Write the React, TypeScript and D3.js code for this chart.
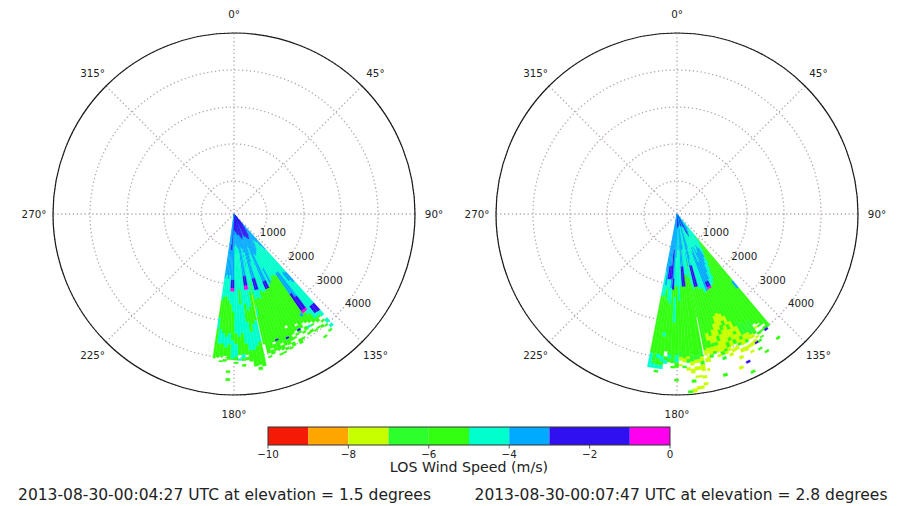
import React from 'react';
import { scaleLinear, scaleThreshold, arc, range } from 'd3';

// run values in m/s: one value from each colour bin of the colorbar
const M = -0.5, D = -2, S = -3.5, C = -4.5, G = -5.5, L = -6.5, Y = -7.5, X = null;

const colorBounds = [-9, -8, -7, -6, -5, -4, -3, -1];
const colorList = ['#f51a05', '#ffa500', '#c8ff00', '#2dff2d', '#33ff11', '#00ffcc', '#00aaff', '#3010f0', '#ff00ee'];
const colorTicks = [-10, -8, -6, -4, -2, 0];
const colorEdges = [-10, -9, -8, -7, -6, -5, -4, -3, -1, 0];

const angleTicks = [0, 45, 90, 135, 180, 225, 270, 315];
const rangeRings = [1000, 2000, 3000, 4000, 5000];
const rangeLabels = [1000, 2000, 3000, 4000];

const leftTitle = '2013-08-30-00:04:27 UTC at elevation = 1.5 degrees';
const rightTitle = '2013-08-30-00:07:47 UTC at elevation = 2.8 degrees';

// beam edges in degrees, then for each beam [end of run in metres, value, ...]
const leftAzimuths = [138, 139.5, 141, 142.5, 144, 145.5, 147, 148.5, 150, 151.5, 153, 154.5, 156, 157.5, 159, 160.5, 162, 163.5, 165, 166.5, 167.4, 167.9, 169.4, 170.9, 172.4, 173.9, 175.4, 176.9, 178.4, 179.9, 181.4, 182.9, 184.4, 185.9, 187.4, 188.4];
const leftRuns = [
    [1300, S, 2150, C, 2500, S, 3300, C, 3560, D, 3720, C, 3840, X, 3960, C, 4030, X, 4115, C],
    [300, D, 1150, S, 2100, C, 2400, S, 3300, C, 3540, D, 3650, C, 3700, G, 3800, X, 3860, G, 3960, X, 4010, G, 4130, X, 4190, G],
    [400, D, 1000, S, 3650, C, 3780, G, 3900, X, 3970, G],
    [500, D, 950, S, 2000, C, 2850, S, 3260, D, 3330, M, 3450, C, 3720, G, 3880, X, 3930, G, 4190, X, 4245, G],
    [600, D, 900, S, 2000, C, 2700, S, 3260, D, 3340, M, 3650, G, 3720, X, 3770, G, 3900, X, 3950, G],
    [700, D, 1050, S, 2050, C, 3300, G, 3400, S, 3600, G, 3700, X, 3760, C, 3840, X, 3910, G],
    [750, D, 1150, S, 2000, C, 3550, G, 3680, X, 3780, G, 3860, X, 3920, G],
    [800, D, 1200, S, 2000, C, 3660, G, 3760, X, 3820, G],
    [800, D, 1250, S, 2100, C, 3480, G, 3540, X, 3640, G, 3700, D, 3760, G, 3900, X, 3950, G],
    [750, D, 1300, S, 1700, C, 2150, S, 3650, G, 3720, X, 3780, G, 3900, X, 4035, G],
    [700, D, 1250, S, 1800, C, 2200, C, 3700, G, 3780, X, 3840, G],
    [700, D, 1500, S, 2030, S, 2260, D, 3400, G, 3470, X, 3850, G, 3900, X, 4010, G],
    [650, D, 1550, S, 2030, S, 2260, D, 3700, G, 3760, D, 3920, G, 4000, X, 4050, G],
    [600, S, 1000, S, 2300, C, 3900, G, 3960, X, 4030, G],
    [650, D, 1200, S, 2300, C, 3800, G, 3860, X, 3990, G, 4050, X, 4090, G],
    [700, D, 1400, S, 2250, C, 3650, G, 3700, D, 3960, G, 4060, X, 4110, G],
    [750, D, 1600, S, 1860, S, 2190, D, 2450, C, 3700, G, 3760, X, 3950, G, 4025, X],
    [700, D, 1600, S, 1860, S, 2190, D, 2400, C, 3850, G, 3900, X, 4020, G],
    [650, D, 1100, S, 2450, C, 3960, G, 4040, X, 4090, G],
    [600, D, 1000, S, 1900, C, 2600, G, 2900, C, 3690, G],
    [1500, S, 2300, C, 2800, Y, 4400, X],
    [600, D, 950, S, 2200, C, 3000, G, 3600, C, 4280, G],
    [600, D, 1100, S, 1740, S, 2010, D, 2120, M, 2600, C, 3100, G, 3700, C, 4230, G, 4290, X, 4370, G],
    [580, D, 1150, S, 1740, S, 2010, D, 2120, M, 2700, C, 3300, G, 3800, C, 4250, G],
    [550, D, 1000, S, 2500, C, 3000, G, 3800, C, 4100, G],
    [520, D, 950, S, 2400, C, 3600, C, 3900, G, 3970, X, 4050, G, 4170, X],
    [500, D, 900, S, 2100, C, 2500, G, 3300, C, 3880, G, 4000, C, 4060, G, 4160, X, 4220, G],
    [480, D, 850, S, 2300, C, 2700, C, 3400, C, 3900, G, 3990, X, 4050, C, 4140, X],
    [460, D, 900, S, 2200, C, 3300, C, 3600, G, 3950, C, 4040, G, 4090, X, 4140, G],
    [580, D, 1100, S, 1825, S, 2060, D, 2145, M, 2700, C, 3500, G, 4000, C, 4030, G],
    [560, S, 1825, S, 2060, D, 2145, M, 2500, C, 3300, G, 3600, C, 4030, G, 4330, X, 4390, G, 4540, X, 4610, G],
    [1000, D, 1700, S, 2400, C, 3400, G, 3700, C, 3930, G, 4020, X, 4080, G],
    [850, S, 1000, D, 1800, S, 2300, C, 3300, G, 3600, C, 3960, G, 4060, X, 4100, G],
    [1700, S, 2300, C, 3200, G, 3600, C, 3980, G],
    [1800, S, 2400, C, 2900, G, 3200, C, 4020, G, 4060, X],
];

const rightAzimuths = [140, 141.5, 143, 144.5, 146, 147.5, 149, 150.5, 152, 153.5, 155, 156.5, 158, 159.5, 161, 162.5, 164, 165.5, 167, 168, 168.9, 169.5, 171, 173.4, 174.9, 176.4, 177.9, 179.4, 180.9, 182.4, 183.9, 185.4, 186.9, 188.4, 189.9, 191];
const rightRuns = [
    [800, C, 2400, G, 2650, S, 4000, G, 4100, X, 4380, X, 4450, G],
    [1000, C, 3850, G, 3920, X, 3990, G, 4050, D, 4120, X],
    [1100, C, 3750, G, 3800, X, 3850, G, 3950, X, 4000, G],
    [500, S, 1250, C, 3700, G, 3780, X, 3840, Y, 3950, X, 4020, G, 4100, X, 4140, G],
    [500, S, 1350, C, 3500, G, 3950, L, 4020, X, 4070, Y, 4150, X, 4210, G, 4500, X, 4560, G],
    [600, S, 1100, C, 1400, S, 1620, C, 3600, G, 3900, L, 4010, Y, 4080, X, 4150, Y, 4200, D, 4340, X, 4400, G],
    [600, S, 1000, C, 1500, S, 1800, C, 3500, G, 3800, L, 4000, Y, 4100, X, 4200, Y],
    [650, S, 1100, C, 1600, S, 2050, C, 3400, G, 3800, L, 3950, Y, 4040, G, 4120, X, 4200, Y, 4300, X, 4360, Y],
    [700, D, 1200, C, 1800, S, 2150, C, 3500, G, 3800, Y, 3900, G, 4050, Y, 4120, X, 4240, Y],
    [600, D, 1000, C, 2000, S, 2200, C, 3300, G, 3600, Y, 3700, G, 3950, Y, 4020, G, 4120, X, 4220, Y, 4500, X, 4560, D, 4800, X, 4870, G],
    [500, S, 1200, C, 1450, C, 2030, S, 2190, D, 2250, M, 3100, G, 3350, Y, 3500, G, 3800, Y, 3930, G, 4000, X, 4100, Y, 4300, X, 4380, Y],
    [400, D, 1000, C, 1600, S, 2030, S, 2190, D, 2250, M, 3000, G, 3200, Y, 3350, G, 3700, Y, 3800, G, 3950, Y, 4030, X, 4120, Y, 4560, X, 4640, Y],
    [400, S, 1150, C, 2280, S, 2950, G, 3300, Y, 3450, G, 3800, Y, 3950, G, 4050, Y, 4120, X, 4200, Y],
    [380, S, 1300, C, 2300, C, 3000, G, 3400, Y, 3550, G, 3950, Y, 4030, G, 4100, Y, 4180, X],
    [360, S, 1100, C, 2180, C, 3200, G, 3550, Y, 3700, G, 4000, Y, 4100, G, 4150, X, 4230, L],
    [340, D, 1000, S, 1600, C, 2150, C, 3350, G, 3700, Y, 3800, G, 3980, Y, 4050, X, 4120, Y, 4600, X, 4680, G],
    [350, D, 1300, S, 1470, C, 2080, D, 3500, G, 3700, Y, 3800, G, 3930, Y, 4000, G],
    [350, D, 1400, S, 1470, S, 2080, D, 3400, G, 3600, Y, 3800, G, 4000, Y, 4080, L],
    [330, S, 1050, C, 2150, C, 3800, G, 3950, Y, 4020, X, 4180, Y],
    [340, S, 1100, C, 1500, S, 2000, C, 3850, G, 3980, Y, 4060, X, 4170, Y, 4350, X, 4420, Y],
    [1300, C, 2000, G, 2900, G],
    [330, S, 1200, C, 1800, C, 2400, G, 3800, G, 4000, L, 4120, Y, 4220, L, 4400, Y, 4520, X, 4600, Y, 4720, X, 4790, Y],
    [330, S, 1000, S, 1700, C, 2300, G, 3950, G, 4060, L, 4150, Y, 4250, X, 4350, Y, 4500, X, 4560, Y, 4800, X, 4880, Y],
    [330, D, 1460, S, 1740, D, 2020, D, 3000, G, 3900, G, 4100, L, 4200, Y, 4300, X, 4420, Y, 4600, X, 4680, G, 4850, X, 4950, Y],
    [330, D, 1460, S, 1740, D, 2020, D, 2500, G, 3950, G, 4020, Y, 4120, L, 4250, X, 4330, Y, 4890, X, 4960, G],
    [360, D, 1200, C, 2000, C, 3100, G, 4000, G, 4100, Y, 4200, X, 4260, L],
    [380, D, 1000, S, 1700, C, 2400, C, 3800, G, 3950, L, 4050, Y, 4150, X, 4200, Y],
    [400, D, 1200, C, 2000, C, 2500, G, 3900, G, 4100, C, 4250, G, 4300, X, 4560, X, 4620, G],
    [400, S, 1200, S, 2000, C, 2300, G, 3000, C, 3100, G, 4000, G, 4120, L, 4200, X, 4260, G],
    [380, S, 1150, S, 1800, S, 2100, D, 2500, G, 3900, G, 4000, C, 4100, G],
    [350, S, 1000, S, 1800, D, 2050, S, 2500, C, 3800, G, 3950, X, 4050, G, 4150, C, 4200, X],
    [330, S, 900, S, 1450, S, 1820, D, 2050, C, 2400, C, 3300, G, 3400, C, 3960, G, 4100, C, 4200, G, 4300, C],
    [1000, S, 1450, S, 1820, D, 2100, C, 2350, G, 3900, G, 4020, C, 4200, G, 4300, C, 4350, X, 4410, G],
    [1300, S, 2000, S, 2300, C, 3900, G, 4100, L, 4170, G, 4300, C],
    [1600, S, 2300, C, 3000, G, 3900, G, 4100, C, 4300, C],
];

const centerY = 214;
const radius = 181;
const leftX = 234;
const rightX = 677;

// beams start at the centre, the rings sit a little tighter on the range axis
const beamScale = scaleLinear().domain([0, 5000]).range([0, radius]);
const ringScale = scaleLinear().domain([1000, 5000]).range([33, radius]);
const colorScale = scaleThreshold<number, string>().domain(colorBounds).range(colorList);
const barScale = scaleLinear().domain([-10, 0]).range([268, 670]);
const rad = (deg: number) => deg * Math.PI / 180;
const arcGen = arc();

const font = "'DejaVu Sans', sans-serif";
const gridColor = '#b5a6b4';
const textColor = '#222';

const Scan = (props: { cx: number, azimuths: Array<number>, runs: Array<Array<any>> }) => {
    let cells: Array<JSX.Element> = [];
    props.runs.forEach((run, ray) => {
        let start = 0;
        for (let i = 0; i < run.length; i += 2) {
            let end = run[i];
            let value = run[i + 1];
            if (value != null) {
                let d = arcGen({
                    innerRadius: beamScale(start),
                    outerRadius: beamScale(end),
                    startAngle: rad(props.azimuths[ray]),
                    endAngle: rad(props.azimuths[ray + 1])
                });
                cells.push(<path key={ray + '-' + i} d={d} fill={colorScale(value)} stroke={colorScale(value)} strokeWidth={0.3} />);
            }
            start = end;
        }
    });

    return (
        <g transform={`translate(${props.cx},${centerY})`} fontFamily={font}>
            {rangeRings.map(r => <circle key={r} r={ringScale(r)} fill="none" stroke={gridColor} strokeWidth={1.3} strokeDasharray="1.3 2.6" />)}
            {angleTicks.map(a => (
                <line key={a} x1={0} y1={0} x2={radius * Math.sin(rad(a))} y2={-radius * Math.cos(rad(a))} stroke={gridColor} strokeWidth={1.3} strokeDasharray="1.3 2.6" />
            ))}
            {cells}
            <circle r={radius} fill="none" stroke="#1a1a1a" strokeWidth={1.2} />
            {angleTicks.map(a => (
                <text key={a} x={(radius + 19) * Math.sin(rad(a))} y={-(radius + 19) * Math.cos(rad(a))} fontSize={10.3} fill={textColor} textAnchor="middle" dominantBaseline="central">{a}°</text>
            ))}
            {rangeLabels.map(r => (
                <text key={r} x={ringScale(r) * Math.sin(rad(130)) + 13.7} y={-ringScale(r) * Math.cos(rad(130)) - 3.2} fontSize={10.3} fill={textColor} textAnchor="middle" dominantBaseline="central">{r}</text>
            ))}
        </g>
    );
};

const App = () => {
    return (
        <svg width={900} height={506} style={{ position: 'absolute', left: 0, top: 0, background: '#fff' }}>
            <Scan cx={leftX} azimuths={leftAzimuths} runs={leftRuns} />
            <Scan cx={rightX} azimuths={rightAzimuths} runs={rightRuns} />

            <g fontFamily={font}>
                {range(colorEdges.length - 1).map(i => (
                    <rect key={i} x={barScale(colorEdges[i])} y={427} width={barScale(colorEdges[i + 1]) - barScale(colorEdges[i])} height={18} fill={colorList[i]} />
                ))}
                <rect x={268} y={427} width={402} height={18} fill="none" stroke="#333" strokeWidth={1} />
                {colorTicks.map(t => (
                    <g key={t} transform={`translate(${barScale(t)},445)`}>
                        <line y2={3.5} stroke="#333" strokeWidth={0.8} />
                        <text y={8.5} fontSize={10.3} fill={textColor} textAnchor="middle" dominantBaseline="central">{t < 0 ? '\u2212' + (-t) : t}</text>
                    </g>
                ))}
                <text x={469} y={467} fontSize={14.2} fill={textColor} textAnchor="middle" dominantBaseline="central">LOS Wind Speed (m/s)</text>
                <text x={224.5} y={495} fontSize={15.5} fill={textColor} textAnchor="middle" dominantBaseline="central">{leftTitle}</text>
                <text x={681} y={495} fontSize={15.5} fill={textColor} textAnchor="middle" dominantBaseline="central">{rightTitle}</text>
            </g>
        </svg>
    );
};

export default App;
